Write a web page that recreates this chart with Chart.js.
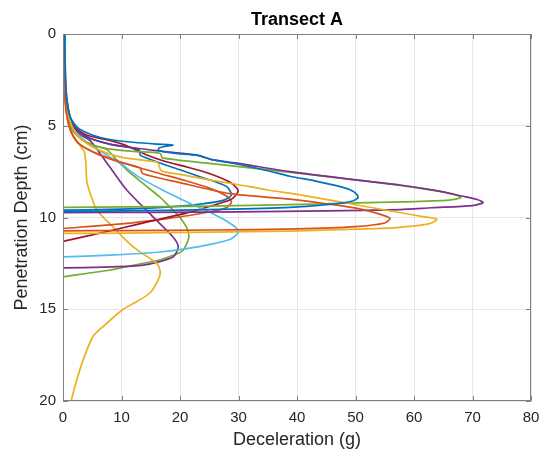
<!DOCTYPE html>
<html>
<head>
<meta charset="utf-8">
<script src="https://cdn.jsdelivr.net/npm/chart.js@4"></script>
<style>
html,body{margin:0;padding:0;background:#fff;}
canvas{display:block;}
</style>
</head>
<body>
<canvas id="c" width="540" height="453"></canvas>
<script>
// ---- tick labels / axes ----
const xTicks = [0, 10, 20, 30, 40, 50, 60, 70, 80];
const yTicks = [0, 5, 10, 15, 20];
const titleText = 'Transect A';
const xTitle = 'Deceleration (g)';
const yTitle = 'Penetration Depth (cm)';
const colors = ['#0072BD', '#D95319', '#EDB120', '#7E2F8E', '#77AC30', '#4DBEEE', '#A2142F'];

// ---- series (deceleration g, depth cm) ----
const decel1 = [0.3,0.4,0.6,1.2,2.5,5,8,12,16,18.8,16.5,16.3,19,23,25.5,30,35,38.8,43,47.4,49.5,50.3,50.4,49,45,38.8,27,14,0];
const depth1 = [0,2,3.5,4.5,5.1,5.5,5.75,5.9,6.0,6.05,6.2,6.35,6.5,6.62,6.85,7.1,7.45,7.75,8.0,8.32,8.55,8.77,8.94,9.14,9.3,9.45,9.56,9.63,9.68];

const decel2 = [0.2,0.3,0.5,1.2,2.5,5,9.7,13.2,13.6,20,28.5,38.8,45,50.3,54,55.9,55,50,40,25,10,0];
const depth2 = [0,2.5,4,5.2,5.9,6.4,6.97,7.3,7.6,8.1,8.7,9.0,9.25,9.5,9.8,10.05,10.3,10.5,10.62,10.68,10.71,10.73];

const decel3 = [0.2,0.3,0.6,1.5,3,6,9.7,15.4,16.2,16.8,20,25,29.8,35,40.5,50.3,57,61.5,63.9,62.5,57,50.3,38.8,25,10,0];
const depth3 = [0,2.5,4,5,5.7,6.3,6.7,6.95,7.0,7.45,7.65,7.95,8.2,8.5,8.77,9.32,9.7,9.95,10.1,10.35,10.55,10.63,10.74,10.8,10.85,10.87];

const decel4 = [0.2,0.3,0.6,1.7,4,8,12,17,23,25.5,30,38.8,50,57.6,64,68.1,70.8,71.8,70,63,57.6,45,30,15,0];
const depth4 = [0,2,3.5,5.0,5.6,6.0,6.2,6.4,6.6,6.85,7.05,7.5,7.95,8.23,8.55,8.83,9.02,9.19,9.35,9.47,9.57,9.64,9.69,9.72,9.73];

const decel5 = [0.2,0.3,0.5,1.2,3,5.1,7.5,12,16.6,17,25,32,40.5,50,57.6,64,67,68,66,58,50.3,38.8,25,12,0];
const depth5 = [0,2,3.5,5.0,5.7,6.05,6.25,6.4,6.5,6.75,7.05,7.3,7.6,7.95,8.25,8.55,8.75,8.92,9.05,9.15,9.2,9.3,9.38,9.42,9.45];

const decel6 = [0.3,0.5,1.5,4,7,10,13,17,21.2,25,28,29.7,29.9,28.5,23,16.6,8,0];
const depth6 = [0,3,5,5.9,6.5,7.1,7.8,8.5,9.15,9.7,10.2,10.6,10.85,11.2,11.6,11.88,12.05,12.15];

const decel7 = [0.2,0.3,0.5,1.7,4,8,11,14,17.5,21.2,25,28.5,29.9,29.5,28.5,25,21.2,15,9.7,5,0];
const depth7 = [0,2.5,3.8,5.0,5.5,5.8,6.1,6.55,6.95,7.25,7.6,8.07,8.5,8.8,9.05,9.4,9.75,10.2,10.6,10.95,11.3];

const decel8 = [0.3,0.5,1.5,4,8,13,13.2,16.6,20,23.4,26,28,28.8,27.5,24,20,14,8,0];
const depth8 = [0,3,4.8,5.6,6.0,6.3,6.6,7.03,7.4,7.78,8.05,8.32,8.77,9.05,9.25,9.38,9.5,9.56,9.6];

const decel9 = [0.2,0.3,0.5,1.5,2.8,6.3,10,16.5,21,25,27.8,28.8,28,25,18,10,0];
const depth9 = [0,2.5,4.2,5.4,6.0,6.6,7.0,7.6,8.0,8.4,8.8,9.15,9.45,9.7,10.05,10.35,10.6];

const decel10 = [0.2,0.3,0.5,1.2,2.5,3.6,3.9,4.1,5,5.8,8.5,10,12,14,16,16.6,16.4,14.9,12.5,10.3,7,5.1,3.4,2.4,1.7,1.4];
const depth10 = [0,2.5,4,5.2,5.9,6.4,7,8.1,9,9.6,10.5,11,11.6,12.05,12.5,12.9,13.3,14.1,14.6,15.0,15.9,16.5,17.8,18.8,19.6,20];

const decel11 = [0.2,0.3,0.6,1.5,3,4.6,8,10.9,15.4,18.8,19.7,18.8,13.7,7,0];
const depth11 = [0,2.5,4,5,5.5,5.8,7.25,8.5,9.97,11.06,11.6,12.15,12.6,12.7,12.75];

const decel12 = [0.2,0.3,0.5,1.2,3,5.1,7.5,9,10.9,13.5,16.6,18.5,20,21.2,21.5,20.5,18.5,16.6,12,8,4,0];
const depth12 = [0,2,3.5,5,5.7,6.05,6.3,6.8,7.4,8.1,8.9,9.5,10.0,10.6,11.1,11.8,12.1,12.3,12.6,12.86,13.05,13.24];

const seriesX = [decel1,decel2,decel3,decel4,decel5,decel6,decel7,decel8,decel9,decel10,decel11,decel12];
const seriesY = [depth1,depth2,depth3,depth4,depth5,depth6,depth7,depth8,depth9,depth10,depth11,depth12];

const datasets = seriesX.map((xs, i) => ({
  data: xs.map((v, j) => ({x: v, y: seriesY[i][j]})),
  borderColor: colors[i % colors.length],
  backgroundColor: colors[i % colors.length],
  borderWidth: 1.7,
  pointRadius: 0,
  showLine: true,
  fill: false,
  tension: 0.25
}));

const FONT = '"Liberation Sans", Arial, Helvetica, sans-serif';
const TXT = '#262626';

const boxPlugin = {
  id: 'box',
  afterDatasetsDraw(chart) {
    const {ctx, chartArea: a, scales} = chart;
    const x = scales.x, y = scales.y;
    ctx.save();
    ctx.strokeStyle = '#7f7f7f';
    ctx.lineWidth = 1;
    ctx.beginPath();
    ctx.rect(Math.round(a.left) + 0.5, Math.round(a.top) + 0.5, Math.round(a.right - a.left) - 1, Math.round(a.bottom - a.top) - 1);
    ctx.stroke();
    ctx.beginPath();
    const tl = 5;
    xTicks.forEach(v => {
      const px = Math.round(x.getPixelForValue(v)) + 0.5;
      ctx.moveTo(px, a.bottom); ctx.lineTo(px, a.bottom - tl);
      ctx.moveTo(px, a.top); ctx.lineTo(px, a.top + tl);
    });
    yTicks.forEach(v => {
      const py = Math.round(y.getPixelForValue(v)) + 0.5;
      ctx.moveTo(a.left, py); ctx.lineTo(a.left + tl, py);
      ctx.moveTo(a.right, py); ctx.lineTo(a.right - tl, py);
    });
    ctx.stroke();
    ctx.restore();
  }
};

function fixHPad(s, h) { s.height = h; s.paddingLeft = 0; s.paddingRight = 9; }

new Chart(document.getElementById('c'), {
  type: 'scatter',
  data: { datasets },
  options: {
    responsive: false,
    animation: false,
    devicePixelRatio: 1,
    layout: { padding: { left: 0, right: 0, top: 0, bottom: 0 } },
    plugins: { legend: { display: false }, tooltip: { enabled: false }, title: { display: false } },
    scales: {
      x: {
        type: 'linear', position: 'bottom', min: 0, max: 80,
        afterBuildTicks(s) { s.ticks = xTicks.map(v => ({value: v})); },
        afterFit(s) { fixHPad(s, 52); },
        grid: { color: '#e6e6e6', drawTicks: false, lineWidth: 1 },
        border: { display: false },
        ticks: { padding: 8, color: TXT, font: { family: FONT, size: 15 }, maxRotation: 0, autoSkip: false },
        title: { display: true, text: xTitle, color: TXT, font: { family: FONT, size: 18 }, padding: { top: 0, bottom: 2 } }
      },
      xTop: {
        type: 'linear', position: 'top', min: 0, max: 80,
        afterFit(s) { fixHPad(s, 34); },
        grid: { display: false, drawTicks: false },
        border: { display: false },
        ticks: { display: false },
        title: { display: true, text: titleText, color: '#000', font: { family: FONT, size: 18, weight: 'bold' }, padding: { top: 9, bottom: 0 } }
      },
      y: {
        type: 'linear', position: 'left', min: 0, max: 20, reverse: true,
        afterBuildTicks(s) { s.ticks = yTicks.map(v => ({value: v})); },
        afterFit(s) { s.width = 63; s.paddingTop = 0; s.paddingBottom = 0; },
        grid: { color: '#e6e6e6', drawTicks: false, lineWidth: 1 },
        border: { display: false },
        ticks: { padding: 7, color: TXT, font: { family: FONT, size: 15 } },
        title: { display: true, text: yTitle, color: TXT, font: { family: FONT, size: 18 }, padding: { top: 11, bottom: 0 } }
      }
    }
  },
  plugins: [boxPlugin]
});
</script>
</body>
</html>
